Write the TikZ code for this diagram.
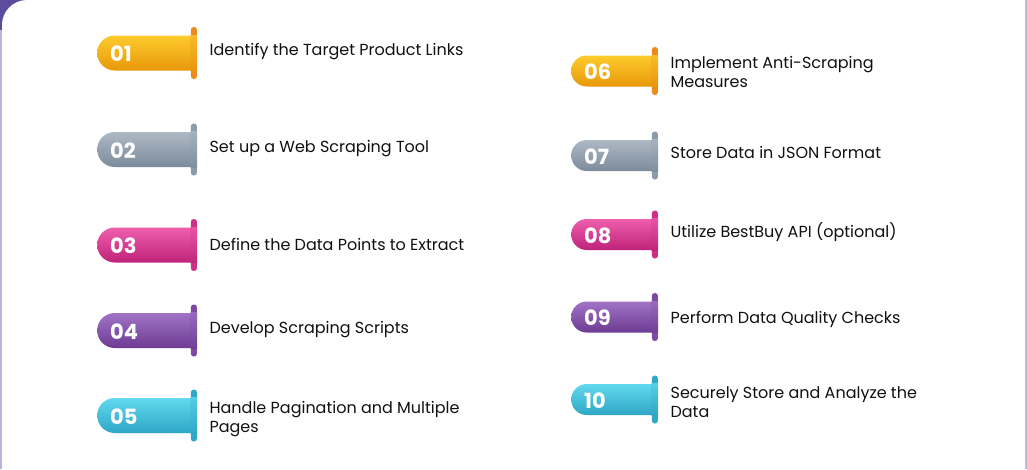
\documentclass[tikz,border=0pt]{standalone}
\usepackage{fontspec}
\setmainfont{Poppins}
\usetikzlibrary{shapes.misc,calc}
\definecolor{frame}{HTML}{5B4C9F}
\definecolor{lav}{HTML}{B9B3D9}
\definecolor{yeltop}{HTML}{FDCB2C}
\definecolor{yelbot}{HTML}{E8980A}
\definecolor{yeltab}{HTML}{EE8A1C}
\definecolor{graytop}{HTML}{ADB8C4}
\definecolor{graybot}{HTML}{7C8B9B}
\definecolor{graytab}{HTML}{8C9AA9}
\definecolor{pinktop}{HTML}{EF5EAE}
\definecolor{pinkbot}{HTML}{BE2379}
\definecolor{pinktab}{HTML}{CF2E86}
\definecolor{purtop}{HTML}{A173C6}
\definecolor{purbot}{HTML}{6C3B92}
\definecolor{purtab}{HTML}{7E49A6}
\definecolor{cyantop}{HTML}{62D9EE}
\definecolor{cyanbot}{HTML}{2EA6C6}
\definecolor{cyantab}{HTML}{2FA9C9}
\definecolor{txt}{HTML}{111111}
\tikzset{
  pillbody/.style={rounded rectangle, rounded rectangle right arc=none, draw=none, inner sep=0pt},
  tabbar/.style={rectangle, rounded corners=2.8pt, minimum width=6pt, inner sep=0pt, draw=none},
  numtext/.style={text=white, font=\fontsize{21}{23}\selectfont\bfseries, inner sep=0pt},
  lbl/.style={text=txt, font=\fontsize{16}{19}\selectfont, align=left, inner sep=0pt, anchor=west}
}
\newcommand\pillrow[8]{%
  \node[pillbody, minimum width=#4, minimum height=#5, top color=#6top, bottom color=#6bot, anchor=west] (p#1) at (#2,#3) {};
  \node[tabbar, fill=#6tab, minimum height=#5+17] (t#1) at ($(p#1.east)+(1.5,0)$) {};
  \fill[top color=#6top!75!#6tab, bottom color=#6bot!75!#6tab] (t#1.west |- p#1.north) rectangle (t#1.east |- p#1.south);
  \node[numtext, anchor=west] (n#1) at ($(p#1.west)+(13,1)$) {#1};
  \node[lbl] (l#1) at ($(p#1.east)+(17,#8)$) {#7};
}
\begin{document}
\begin{tikzpicture}[x=1pt,y=-1pt]
\useasboundingbox (0,0) rectangle (1027,469);
\fill[lav] (0,0) rectangle (1027,469);
\fill[frame] (0,0) rectangle (30,30);
\fill[white] (2,469) -- (2,25) arc[start angle=180, end angle=270, radius=25] -- (1025,0) -- (1025,469) -- cycle;
\pillrow{01}{97}{53}{95pt}{35pt}{yel}{Identify the Target Product Links}{-1}
\pillrow{02}{97}{149.5}{95pt}{35pt}{gray}{Set up a Web Scraping Tool}{-1}
\pillrow{03}{97}{245}{95pt}{35pt}{pink}{Define the Data Points to Extract}{-1}
\pillrow{04}{97}{330.5}{95pt}{35pt}{pur}{Develop Scraping Scripts}{-1}
\pillrow{05}{97}{415.5}{95pt}{35pt}{cyan}{Handle Pagination and Multiple\\Pages}{4}
\pillrow{06}{571}{71}{82pt}{31pt}{yel}{Implement Anti-Scraping\\Measures}{1}
\pillrow{07}{571}{155.5}{82pt}{31pt}{gray}{Store Data in JSON Format}{-3}
\pillrow{08}{571}{234.5}{82pt}{31pt}{pink}{Utilize BestBuy API (optional)}{-2}
\pillrow{09}{571}{317}{82pt}{31pt}{pur}{Perform Data Quality Checks}{2}
\pillrow{10}{571}{399.5}{82pt}{31pt}{cyan}{Securely Store and Analyze the\\Data}{3}
\end{tikzpicture}
\end{document}
